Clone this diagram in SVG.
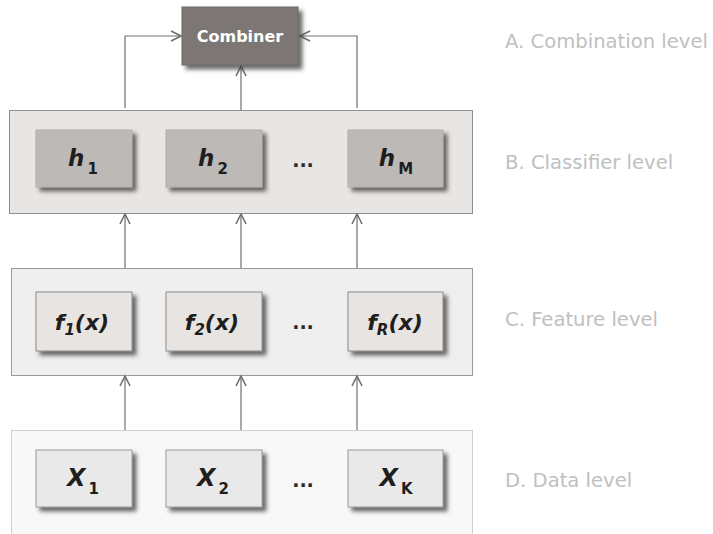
<svg xmlns="http://www.w3.org/2000/svg" width="713" height="534" viewBox="0 0 713 534">
  <defs>
    <filter id="shadow" x="-20%" y="-20%" width="150%" height="160%">
      <feDropShadow dx="4" dy="4" stdDeviation="2" flood-color="#3a3a3a" flood-opacity="0.75"/>
    </filter>
    <marker id="arrow" viewBox="0 0 12 12" refX="11" refY="6" markerWidth="12" markerHeight="12" markerUnits="userSpaceOnUse" orient="auto">
      <path d="M1,1 L11,6 L1,11" fill="none" stroke="#6f6f6f" stroke-width="1.6"/>
    </marker>
    <style>
      .conn { fill: none; stroke: #707070; stroke-width: 1.2; marker-end: url(#arrow); }
      .panelB { fill: #e8e6e4; stroke: #8e8e8e; stroke-width: 1; }
      .panelC { fill: #efefef; stroke: #9a9a9a; stroke-width: 1; }
      .panelD { fill: #f8f8f8; stroke: #d0d0d0; stroke-width: 1; }
      .boxH { fill: #bcb9b6; stroke: #b0adaa; stroke-width: 1; filter: url(#shadow); }
      .boxF { fill: #e7e4e1; stroke: #8c8c8c; stroke-width: 1; filter: url(#shadow); }
      .boxX { fill: #e9e9e9; stroke: #9a9a9a; stroke-width: 1; filter: url(#shadow); }
      .boxC { fill: #7b7774; stroke: #6e6a67; stroke-width: 1; filter: url(#shadow); }
      .sym { font-family: "DejaVu Sans", Verdana, sans-serif; font-weight: bold; fill: #1e1e1e; }
      .it { font-style: italic; }
      .sub { font-size: 15px; }
      .dots { font-family: "DejaVu Sans", sans-serif; font-weight: bold; font-size: 19px; fill: #2a2a2a; text-anchor: middle; }
      .level { font-family: "DejaVu Sans", Verdana, sans-serif; font-size: 19.6px; fill: #c0c0c0; }
      .comb { font-family: "DejaVu Sans", Verdana, sans-serif; font-weight: bold; font-size: 16px; fill: #ffffff; text-anchor: middle; }
    </style>
  </defs>

  <!-- level panels -->
  <g id="panel-classifier"><rect class="panelB" x="9.5" y="110.5" width="463" height="103"/></g>
  <g id="panel-feature"><rect class="panelC" x="11.5" y="268.5" width="461" height="107"/></g>
  <g id="panel-data"><rect class="panelD" x="11.5" y="430.5" width="461" height="110"/></g>

  <!-- connectors -->
  <g id="connectors">
    <path class="conn" d="M125,108 V36 H181"/>
    <path class="conn" d="M357,108 V36 H300"/>
    <path class="conn" d="M241,110 V66"/>
    <path class="conn" d="M125,268 V214"/>
    <path class="conn" d="M241,268 V214"/>
    <path class="conn" d="M357,268 V214"/>
    <path class="conn" d="M125,430 V376"/>
    <path class="conn" d="M241,430 V376"/>
    <path class="conn" d="M357,430 V376"/>
  </g>

  <!-- combination level -->
  <g id="combiner">
    <rect class="boxC" x="182" y="7" width="116" height="58"/>
    <text class="comb" x="240" y="42">Combiner</text>
  </g>

  <!-- classifier level -->
  <g id="h1">
    <rect class="boxH" x="36" y="130" width="96" height="57"/>
    <text class="sym" x="83" y="166" font-size="23" text-anchor="middle"><tspan class="it">h</tspan><tspan class="sub" dx="3" dy="8">1</tspan></text>
  </g>
  <g id="h2">
    <rect class="boxH" x="166" y="130" width="96" height="57"/>
    <text class="sym" x="213" y="166" font-size="23" text-anchor="middle"><tspan class="it">h</tspan><tspan class="sub" dx="3" dy="8">2</tspan></text>
  </g>
  <g id="h-dots"><text class="dots" x="303" y="167">...</text></g>
  <g id="hM">
    <rect class="boxH" x="348" y="130" width="95" height="57"/>
    <text class="sym" x="396" y="166" font-size="23" text-anchor="middle"><tspan class="it">h</tspan><tspan class="sub" dx="3" dy="8">M</tspan></text>
  </g>

  <!-- feature level -->
  <g id="f1">
    <rect class="boxF" x="36" y="292" width="96" height="59"/>
    <text class="sym it" x="82" y="330" font-size="22" text-anchor="middle">f<tspan class="sub" dy="5">1</tspan><tspan dy="-5">(x)</tspan></text>
  </g>
  <g id="f2">
    <rect class="boxF" x="166" y="292" width="96" height="59"/>
    <text class="sym it" x="212" y="330" font-size="22" text-anchor="middle">f<tspan class="sub" dy="5">2</tspan><tspan dy="-5">(x)</tspan></text>
  </g>
  <g id="f-dots"><text class="dots" x="303" y="329">...</text></g>
  <g id="fR">
    <rect class="boxF" x="348" y="292" width="95" height="59"/>
    <text class="sym it" x="395" y="330" font-size="22" text-anchor="middle">f<tspan class="sub" dy="5">R</tspan><tspan dy="-5">(x)</tspan></text>
  </g>

  <!-- data level -->
  <g id="x1">
    <rect class="boxX" x="36" y="450" width="96" height="57"/>
    <text class="sym" x="83" y="486" font-size="24" text-anchor="middle"><tspan class="it">X</tspan><tspan class="sub" dx="3" dy="8">1</tspan></text>
  </g>
  <g id="x2">
    <rect class="boxX" x="166" y="450" width="96" height="57"/>
    <text class="sym" x="213" y="486" font-size="24" text-anchor="middle"><tspan class="it">X</tspan><tspan class="sub" dx="3" dy="8">2</tspan></text>
  </g>
  <g id="x-dots"><text class="dots" x="303" y="487">...</text></g>
  <g id="xK">
    <rect class="boxX" x="348" y="450" width="95" height="57"/>
    <text class="sym" x="396" y="486" font-size="24" text-anchor="middle"><tspan class="it">X</tspan><tspan class="sub" dx="3" dy="8">K</tspan></text>
  </g>

  <!-- level captions -->
  <g id="captions">
    <text class="level" x="505" y="48">A. Combination level</text>
    <text class="level" x="505" y="169">B. Classifier level</text>
    <text class="level" x="505" y="326">C. Feature level</text>
    <text class="level" x="505" y="487">D. Data level</text>
  </g>
</svg>
